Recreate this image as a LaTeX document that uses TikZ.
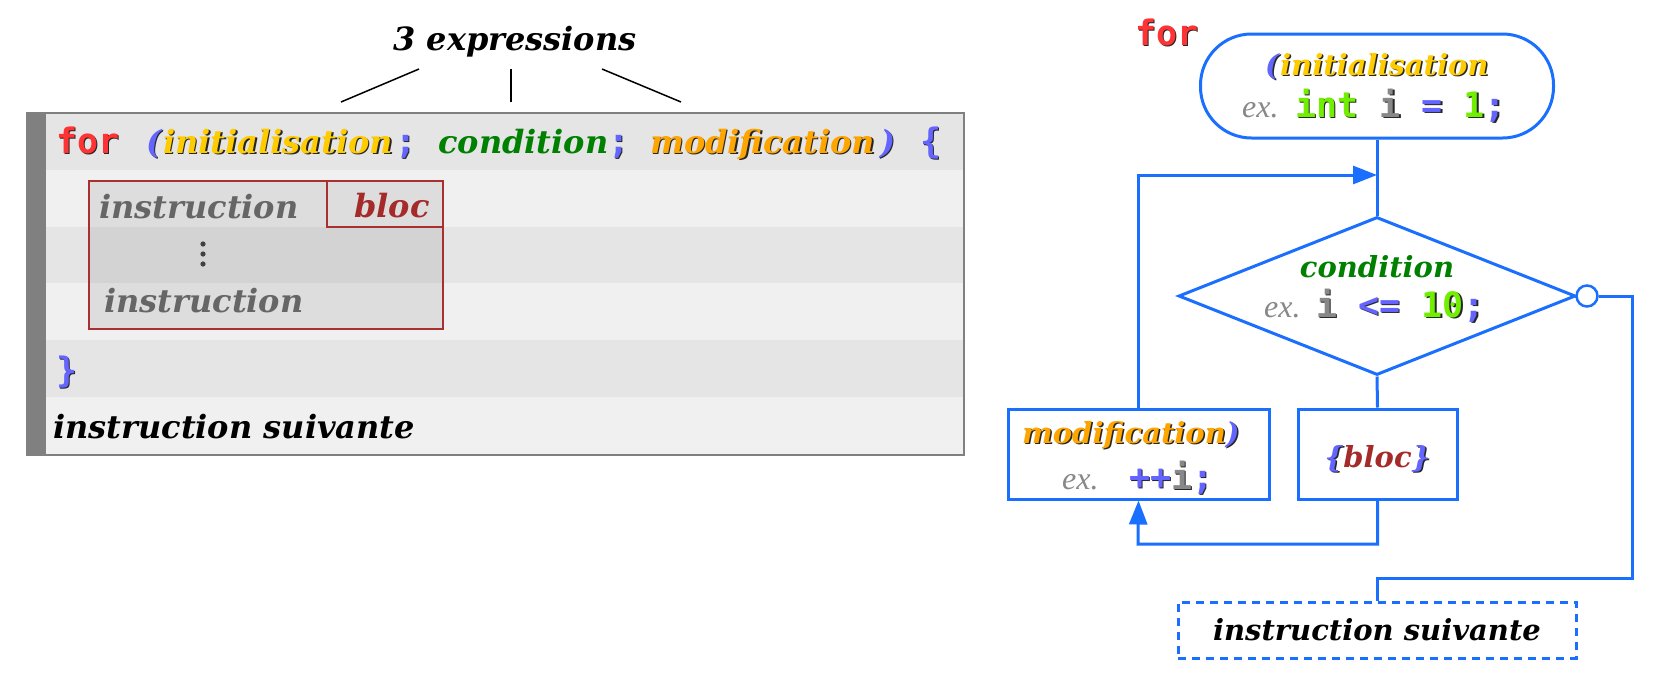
\documentclass[tikz,border=0pt]{standalone}
\usepackage{fontspec}
\setmainfont{DejaVu Serif}
\newfontfamily\exfont{Liberation Serif}
\newfontfamily\monofont{DejaVu Sans Mono}
\usetikzlibrary{arrows.meta,shapes.geometric}
\definecolor{fred}{HTML}{FF3333}
\definecolor{fyel}{HTML}{FFCC00}
\definecolor{fgrn}{HTML}{008000}
\definecolor{forg}{HTML}{FFA500}
\definecolor{fblu}{HTML}{6464FF}
\definecolor{flime}{HTML}{70F000}
\definecolor{fgray}{HTML}{888888}
\definecolor{fbloc}{HTML}{A52A2A}
\definecolor{fline}{HTML}{1A6FFF}
\definecolor{ibox}{HTML}{A83030}
\definecolor{rowA}{HTML}{E5E5E5}
\definecolor{rowB}{HTML}{F0F0F0}
\definecolor{barg}{HTML}{808080}
\definecolor{instr}{HTML}{666666}
\newcommand\sh[2]{\rlap{\kern1.5pt\raisebox{-1.5pt}{\color{black!85}#2}}{\color{#1}#2}}
\newcommand\serA{\fontsize{32}{38}\selectfont\bfseries\itshape}
\newcommand\serB{\fontsize{29}{34}\selectfont\bfseries\itshape}
\newcommand\mono{\monofont\fontsize{35}{40}\selectfont\bfseries}
\newcommand\exs{\exfont\fontsize{32}{38}\selectfont\itshape\color{fgray}}
\begin{document}
\begin{tikzpicture}[x=1pt,y=-1pt,
  t/.style={inner sep=0pt,anchor=base west},
  tc/.style={inner sep=0pt,anchor=base},
  fl/.style={draw=fline,line width=3pt},
  arr/.style={fl,-{Triangle[length=24pt,width=18pt]}},
  lnk/.style={draw=black,line width=1.5pt}]
\useasboundingbox (0,0) rectangle (1672,686);
% ---------- code box ----------
\fill[rowA] (27,113) rectangle (964,170);
\fill[rowB] (27,170) rectangle (964,227);
\fill[rowA] (27,227) rectangle (964,283);
\fill[rowB] (27,283) rectangle (964,340);
\fill[rowA] (27,340) rectangle (964,397);
\fill[rowB] (27,397) rectangle (964,455);
\fill[barg] (27,113) rectangle (46,455);
\draw[barg,line width=1.5pt] (27,113) rectangle (964,455);
% bloc frame
\draw[ibox,line width=2.8pt,fill=black,fill opacity=0.08] (89,181) rectangle (443,329);
\draw[ibox,line width=2.8pt] (327,181) rectangle (443,227);
% title
\node[tc] (title) at (515,50) {\serA 3 expressions};
\coordinate (l1a) at (419,69); \coordinate (l1b) at (341,102);
\coordinate (l2a) at (511,69); \coordinate (l2b) at (511,102);
\coordinate (l3a) at (602,69); \coordinate (l3b) at (681,102);
\draw[lnk] (l1a) -- (l1b);
\draw[lnk] (l2a) -- (l2b);
\draw[lnk] (l3a) -- (l3b);
% code line
\node[t] (cfor) at (56,153) {\mono\sh{fred}{for}};
\node[t] (cpo) at (146,153) {\serA\sh{fblu}{(}};
\node[t] (cinit) at (163,153) {\serA\sh{fyel}{initialisation}};
\node[t] (csc1) at (395,153) {\mono\sh{fblu}{;}};
\node[t] (ccond) at (438,153) {\serA\color{fgrn}condition};
\node[t] (csc2) at (608,153) {\mono\sh{fblu}{;}};
\node[t] (cmod) at (650,153) {\serA\sh{forg}{modification}};
\node[t] (cpc) at (880,153) {\serA\sh{fblu}{)}};
\node[t] (cbr) at (920,153) {\mono\sh{fblu}{\{}};
% block
\node[t] (ins1) at (99,218) {\serA\color{instr}instruction};
\node[t] (bloc) at (354,217) {\serA\color{fbloc}bloc};
\fill[black!75] (203,244) circle (2.6pt) (203,254) circle (2.6pt) (203,264) circle (2.6pt);
\node[t] (ins2) at (104,312) {\serA\color{instr}instruction};
\node[t] (cclose) at (56,382) {\mono\sh{fblu}{\}}};
\node[t] (csuiv) at (53,438) {\serA\color{black}instruction suivante};
% ---------- flowchart ----------
\node[t] (ffor) at (1135,45) {\mono\sh{fred}{for}};
\node[draw=fline,line width=3pt,rounded corners=51pt,minimum width=353pt,minimum height=104pt,inner sep=0pt] (start) at (1377,86) {};
\node[t] (spo) at (1265,75) {\serB\sh{fblu}{(}};
\node[t] (sinit) at (1280,75) {\serB\sh{fyel}{initialisation}};
\node[t] (sex) at (1242,117) {\exs ex.};
\node[t] (scode) at (1295,117) {\mono\sh{flime}{int} \sh{fgray}{i} \sh{fblu}{=} \sh{flime}{1}\sh{fblu}{;}};
\node[diamond,draw=fline,line width=3pt,minimum width=397pt,minimum height=158pt,inner sep=0pt] (cond) at (1377,296) {};
\node[tc] (dcond) at (1377,277) {\serB\color{fgrn}condition};
\node[t] (dex) at (1264,317) {\exs ex.};
\node[t] (dcode) at (1316,317) {\mono\sh{fgray}{i} \sh{fblu}{<=} \sh{flime}{10}\sh{fblu}{;}};
\node[circle,draw=fline,line width=2.5pt,fill=white,minimum size=21pt,inner sep=0pt] (circ) at (1587,296) {};
\node[draw=fline,line width=3pt,minimum width=261pt,minimum height=90pt,inner sep=0pt] (modif) at (1138.5,454) {};
\node[t] (mtxt) at (1022,443) {\serB\sh{forg}{modification}\sh{fblu}{)}};
\node[t] (mex) at (1062,489) {\exs ex.};
\node[t] (mcode) at (1129,489) {\mono\sh{fblu}{++}\sh{fgray}{i}\sh{fblu}{;}};
\node[draw=fline,line width=3pt,minimum width=159pt,minimum height=90pt,inner sep=0pt] (blk) at (1377.5,454) {};
\node[tc] (btxt) at (1377.5,467) {\serB\sh{fblu}{\{}\color{fbloc}bloc\sh{fblu}{\}}};
\node[draw=fline,line width=3pt,dash pattern=on 8pt off 6pt,minimum width=398pt,minimum height=56pt,inner sep=0pt] (next) at (1377,630) {};
\node[tc] (ntxt) at (1377,640) {\serB\color{black}instruction suivante};
% connectors
\coordinate (j1) at (1377,175);
\coordinate (j2) at (1138,544);
\coordinate (j3) at (1632,578);
\draw[fl] (start.south) -- (cond.north);
\draw[arr] (modif.north) |- (j1);
\draw[fl] (cond.south) -- (blk.north);
\draw[arr] (blk.south) |- (j2) -- (modif.south);
\draw[fl] (cond.east) -- (circ.west);
\draw[fl] (circ.east) -| (j3) -| (next.north);
\end{tikzpicture}
\end{document}
